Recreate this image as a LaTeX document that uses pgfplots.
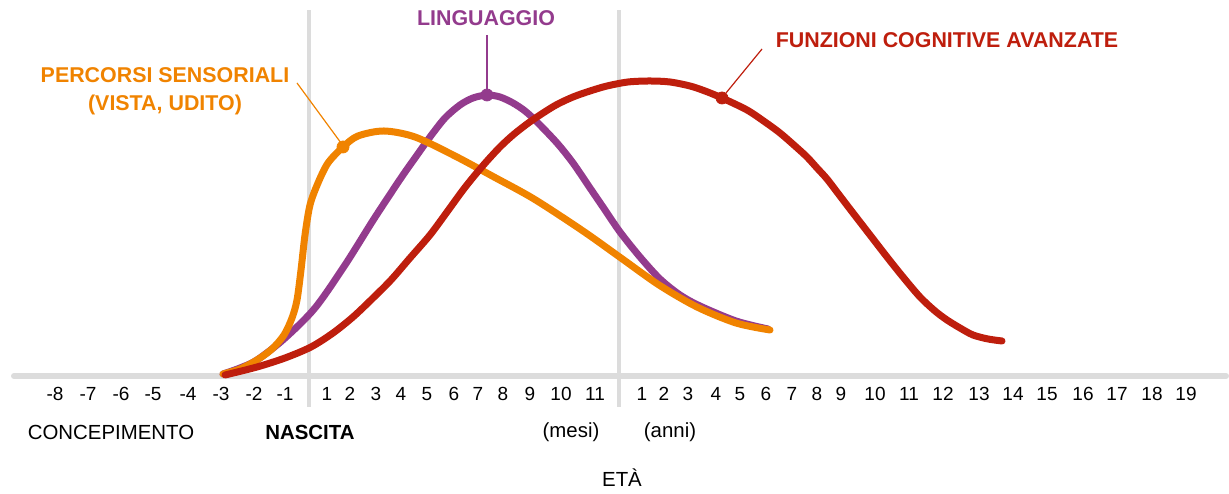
\documentclass[border=0pt]{standalone}
\usepackage{fontspec}
\setmainfont{Liberation Sans}
\usepackage{pgfplots}
\pgfplotsset{compat=1.18}
\definecolor{cOr}{HTML}{F08300}
\definecolor{cPu}{HTML}{933B8D}
\definecolor{cRe}{HTML}{BE1E0D}
\definecolor{cGr}{HTML}{DCDCDC}
\begin{document}
\begin{tikzpicture}
\begin{axis}[
 width=614.5pt, height=244.5pt, scale only axis,
 xmin=0, xmax=1229, ymin=-113, ymax=376,
 axis x line=middle, axis y line=none,
 x axis line style={draw=none},
 xtick={55,88,121,153,188,221,254,285,327,350,376,401,427,454,478,503,530,561,595,642,664,688,716,740,766,792,817,841,875,909,943,979,1013,1047,1083,1117,1152,1186},
 xticklabels={-8,-7,-6,-5,-4,-3,-2,-1,1,2,3,4,5,6,7,8,9,10,11,1,2,3,4,5,6,7,8,9,10,11,12,13,14,15,16,17,18,19},
 major tick length=0pt,
 xticklabel style={font=\fontsize{9.5}{11}\selectfont, anchor=north, yshift=-2pt},
 ytick=\empty,
 clip=false,
 hide obscured x ticks=false,
]
% invisible frame so that the picture spans the whole range
\addplot[draw=none] coordinates {(0,-113) (1229,376)};
% axis line and separators
\addplot[cGr, line width=3pt, line cap=round] coordinates {(14,0) (1226,0)};
\addplot[cGr, line width=2pt] coordinates {(309,-31) (309,366)};
\addplot[cGr, line width=2pt] coordinates {(619,-31) (619,366)};
% linguaggio
\addplot[cPu, line width=3.5pt, line cap=round, smooth] coordinates {
(223,2) (240,8) (257,16) (284,37) (315,68) (345,111) (372,154) (387,177) (403,201) (415,218) (430,239) (445,258) (460,271) (473,278) (487,281) (500,279) (513,273) (525,265) (537,254) (557,233) (573,213) (590,188) (605,166) (620,144) (640,119) (660,97) (680,81) (700,70) (736,55) (768,47)};
% percorsi sensoriali
\addplot[cOr, line width=3.5pt, line cap=round, smooth] coordinates {
(223,2) (240,7) (257,16) (272,27) (284,41) (292,58) (297,76) (301,106) (305,141) (310,171) (318,193) (328,213) (343,229) (358,240) (384,245) (415,239) (455,220) (494,199) (534,177) (583,145) (621,118) (659,91) (697,69) (736,53) (770,46)};
% funzioni cognitive
\addplot[cRe, line width=3.5pt, line cap=round, smooth] coordinates {
(225,1) (257,9) (285,18) (311,29) (333,43) (353,59) (372,77) (391,96) (410,118) (430,141) (447,164) (463,186) (475,201) (487,215) (500,229) (513,241) (527,252) (540,261) (556,271) (573,279) (590,285) (607,290) (628,294) (650,295) (670,294) (690,290) (705,285) (722,278) (747,266) (765,254) (780,243) (795,230) (807,219) (817,208) (827,197) (840,180) (853,163) (870,141) (887,119) (903,99) (920,79) (935,65) (947,56) (960,48) (973,41) (988,37) (1002,35)};
% leader lines
\addplot[cOr, line width=0.6pt] coordinates {(297,293) (341,233)};
\addplot[cPu, line width=0.6pt] coordinates {(487,341) (487,284)};
\addplot[cRe, line width=0.6pt] coordinates {(726,283) (762,327)};
% markers
\addplot[only marks, mark=*, mark size=3pt, cOr] coordinates {(343,229)};
\addplot[only marks, mark=*, mark size=3pt, cPu] coordinates {(487,281)};
\addplot[only marks, mark=*, mark size=3pt, cRe] coordinates {(722,278)};
% labels
\node[cOr, font=\fontsize{10.7}{12}\selectfont\bfseries] at (axis cs:165,301) {PERCORSI SENSORIALI};
\node[cOr, font=\fontsize{10.7}{12}\selectfont\bfseries] at (axis cs:165,271) {(VISTA, UDITO)};
\node[cPu, font=\fontsize{10.7}{12}\selectfont\bfseries] at (axis cs:486,358) {LINGUAGGIO};
\node[cRe, font=\fontsize{10.7}{12}\selectfont\bfseries] at (axis cs:947,336) {FUNZIONI COGNITIVE AVANZATE};
\node[font=\fontsize{10.2}{12}\selectfont] at (axis cs:111,-56) {CONCEPIMENTO};
\node[font=\fontsize{10.2}{12}\selectfont\bfseries] at (axis cs:310,-56) {NASCITA};
\node[font=\fontsize{10.2}{12}\selectfont] at (axis cs:571,-56) {(mesi)};
\node[font=\fontsize{10.2}{12}\selectfont] at (axis cs:670,-56) {(anni)};
\node[font=\fontsize{10.2}{12}\selectfont] at (axis cs:622,-102) {ETÀ};
\end{axis}
\end{tikzpicture}
\end{document}
